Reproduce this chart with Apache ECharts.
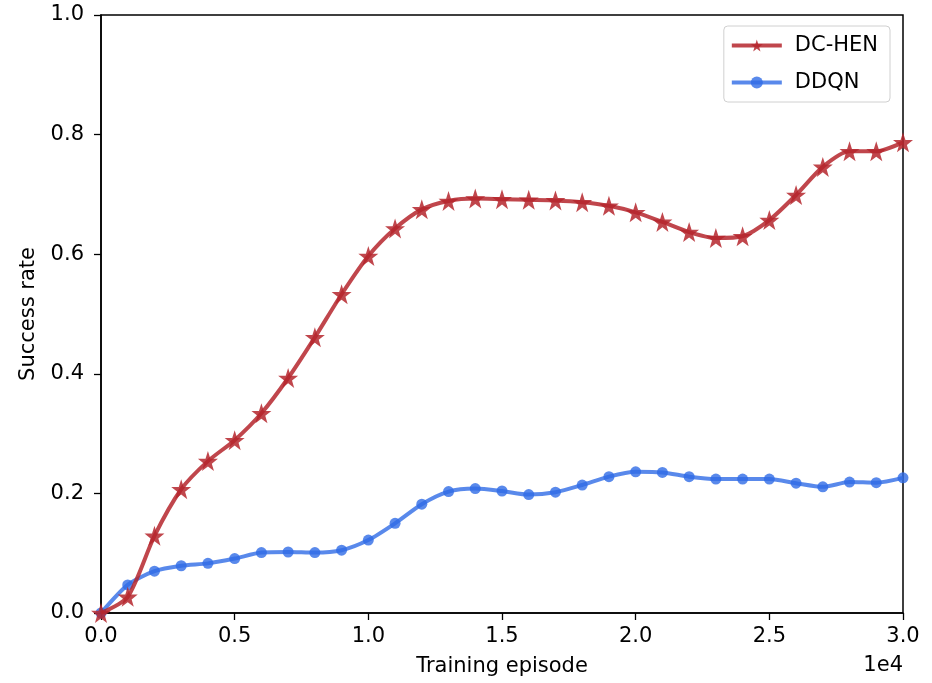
<!DOCTYPE html>
<html>
<head>
<meta charset="utf-8">
<script src="https://cdn.jsdelivr.net/npm/echarts@6/dist/echarts.min.js"></script>
<style>
  html, body { margin: 0; padding: 0; background: #fff; }
  #chart { width: 932px; height: 683px; }
</style>
</head>
<body>
<div id="chart"></div>
<script>
// training episodes, one point every 1000
var episodes = [0, 1000, 2000, 3000, 4000, 5000, 6000, 7000, 8000, 9000, 10000,
  11000, 12000, 13000, 14000, 15000, 16000, 17000, 18000, 19000, 20000,
  21000, 22000, 23000, 24000, 25000, 26000, 27000, 28000, 29000, 30000];
var dchen = [0.0, 0.027, 0.129, 0.207, 0.254, 0.289, 0.334, 0.393, 0.461, 0.533, 0.597,
  0.643, 0.675, 0.689, 0.693, 0.692, 0.691, 0.690, 0.687, 0.681, 0.670,
  0.654, 0.637, 0.627, 0.630, 0.657, 0.699, 0.746, 0.772, 0.772, 0.787];
var ddqn = [0.0, 0.047, 0.070, 0.079, 0.083, 0.091, 0.101, 0.102, 0.101, 0.105, 0.122,
  0.150, 0.182, 0.203, 0.208, 0.204, 0.198, 0.202, 0.214, 0.228, 0.236,
  0.235, 0.228, 0.224, 0.224, 0.224, 0.217, 0.211, 0.219, 0.218, 0.226];
var xTicks = [0, 5000, 10000, 15000, 20000, 25000, 30000];
var yTicks = [0, 0.2, 0.4, 0.6, 0.8, 1.0];

function pairs(ys) {
  return episodes.map(function (x, i) { return [x, ys[i]]; });
}

var myChart = echarts.init(document.getElementById('chart'));
var font = 'DejaVu Sans';
var fs = 21;
var star = 'path://M50,0 L61.8,35.1 L98.5,35.1 L68.8,57 L79.4,91 L50,70 L20.6,91 L31.2,57 L1.5,35.1 L38.2,35.1 Z';
var option = {
  backgroundColor: '#fff',
  animation: false,
  textStyle: { fontFamily: font },
  grid: {
    left: 101, right: 29, top: 15, bottom: 70,
    show: true, borderColor: '#000', borderWidth: 1.5
  },
  legend: {
    orient: 'vertical',
    right: 42, top: 26,
    itemWidth: 50, itemHeight: 15, itemGap: 16,
    padding: [9, 12, 9, 6],
    borderColor: '#d0d0d0', borderWidth: 1, borderRadius: 4,
    lineStyle: { width: 4 },
    textStyle: { fontSize: fs, color: '#000', fontFamily: font, padding: [0, 0, 0, 8] },
    data: ['DC-HEN', 'DDQN']
  },
  xAxis: {
    type: 'value',
    min: xTicks[0], max: xTicks[xTicks.length - 1], interval: 5000,
    name: 'Training episode', nameLocation: 'middle', nameGap: 43,
    nameTextStyle: { fontSize: fs, color: '#000', fontFamily: font },
    axisLine: { show: true, lineStyle: { color: '#000', width: 1.5 } },
    axisTick: { show: true, length: 7, inside: false, lineStyle: { color: '#000', width: 1.3 } },
    axisLabel: { fontSize: fs, color: '#000', margin: 13, fontFamily: font,
      formatter: function (v) { return (v / 10000).toFixed(1); } },
    splitLine: { show: false }
  },
  yAxis: {
    type: 'value',
    min: yTicks[0], max: yTicks[yTicks.length - 1], interval: 0.2,
    name: 'Success rate', nameLocation: 'middle', nameGap: 62, nameRotate: 90,
    nameTextStyle: { fontSize: fs, color: '#000', fontFamily: font },
    axisLine: { show: true, lineStyle: { color: '#000', width: 1.5 } },
    axisTick: { show: true, length: 7, inside: false, lineStyle: { color: '#000', width: 1.3 } },
    axisLabel: { fontSize: fs, color: '#000', margin: 17, fontFamily: font,
      formatter: function (v) { return v.toFixed(1); } },
    splitLine: { show: false }
  },
  graphic: [{
    type: 'text', right: 29, top: 655,
    style: { text: '1e4', fontSize: fs, fill: '#000', fontFamily: font }
  }],
  series: [
    {
      name: 'DC-HEN', type: 'line', data: pairs(dchen),
      smooth: 0.25,
      symbol: star,
      symbolSize: 20,
      lineStyle: { color: '#b5262d', width: 4, opacity: 0.85 },
      itemStyle: { color: '#b5262d', opacity: 0.85 },
      z: 3
    },
    {
      name: 'DDQN', type: 'line', data: pairs(ddqn),
      smooth: 0.25,
      symbol: 'circle', symbolSize: 11,
      lineStyle: { color: '#2f6ce6', width: 4, opacity: 0.8 },
      itemStyle: { color: '#2f6ce6', opacity: 0.8 },
      z: 2
    }
  ]
};
myChart.setOption(option);
</script>
</body>
</html>
